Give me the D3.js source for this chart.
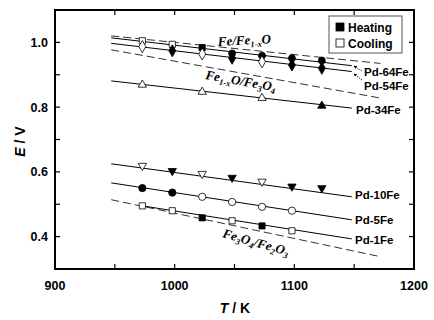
<!DOCTYPE html>
<html>
<head>
<meta charset="utf-8">
<script src="https://cdn.jsdelivr.net/npm/d3@7"></script>
<style>
  body { margin: 0; background: #fff; }
  text { font-family: "Liberation Sans", Arial, sans-serif; }
</style>
</head>
<body>
<svg id="chart" width="434" height="320"></svg>
<script>
// Temperatures (K) of measurement
const temps = [973, 998, 1023, 1048, 1073, 1098, 1123];

// EMF values (V) per alloy, with marker shape and fill (h = heating, c = cooling)
const pd64 = [1.005, 0.994, 0.984, 0.966, 0.959, 0.951, 0.944];
const pd64Mode = ["c", "c", "h", "h", "h", "h", "h"];
const pd64Shape = ["square", "square", "square", "circle", "circle", "circle", "circle"];
const pd54 = [0.987, 0.974, 0.964, 0.951, 0.940, 0.930, 0.920];
const pd54Mode = ["c", "h", "c", "h", "c", "h", "h"];
const pd34T = [973, 1023, 1073, 1123];
const pd34 = [0.869, 0.847, 0.828, 0.804];
const pd34Mode = ["c", "c", "c", "h"];
const pd10 = [0.619, 0.603, 0.594, 0.582, 0.570, 0.555, 0.550];
const pd10Mode = ["c", "h", "c", "h", "c", "h", "h"];
const pd5T = [973, 998, 1023, 1048, 1073, 1098];
const pd5 = [0.550, 0.536, 0.523, 0.507, 0.492, 0.480];
const pd5Mode = ["h", "h", "c", "c", "c", "c"];
const pd1T = [973, 998, 1023, 1048, 1073, 1098];
const pd1 = [0.495, 0.480, 0.458, 0.449, 0.433, 0.418];
const pd1Mode = ["c", "c", "h", "c", "h", "c"];

// Fitted lines [T start, E start, T end, E end]
const fitLines = [
    [947, 1.014, 1148, 0.928],
    [947, 0.997, 1148, 0.910],
    [947, 0.881, 1148, 0.797],
    [947, 0.625, 1148, 0.523],
    [947, 0.566, 1148, 0.452],
    [973, 0.495, 1148, 0.393]
];
// Equilibrium lines (dashed)
const eqLines = [
    [947, 1.020, 1172, 0.935],
    [947, 0.977, 1172, 0.828],
    [947, 0.514, 1172, 0.338]
];

const xTicks = [900, 1000, 1100, 1200];
const yTicks = [0.4, 0.6, 0.8, 1.0];

const svg = d3.select("#chart");
const pLeft = 55, pRight = 414, pTop = 10, pBottom = 269;

const x = d3.scaleLinear().domain([900, 1200]).range([pLeft, pRight]);
const y = d3.scaleLinear().domain([0.3, 1.1]).range([pBottom, pTop]);

// Lines
svg.selectAll(".eq").data(eqLines).join("line")
    .attr("x1", d => x(d[0])).attr("y1", d => y(d[1]))
    .attr("x2", d => x(d[2])).attr("y2", d => y(d[3]))
    .attr("stroke", "#333").attr("stroke-width", 1)
    .attr("stroke-dasharray", "8,4");

svg.selectAll(".fit").data(fitLines).join("line")
    .attr("x1", d => x(d[0])).attr("y1", d => y(d[1]))
    .attr("x2", d => x(d[2])).attr("y2", d => y(d[3]))
    .attr("stroke", "#000").attr("stroke-width", 1);

// Markers
const symbols = {
    square: d3.symbolSquare,
    circle: d3.symbolCircle,
    diamond: d3.symbolDiamond,
    triangle: d3.symbolTriangle
};
const drawSeries = (ts, es, modes, shape, size, rotate) => {
    ts.forEach((t, i) => {
        const s = Array.isArray(shape) ? shape[i] : shape;
        svg.append("path")
            .attr("d", d3.symbol().type(symbols[s]).size(size)())
            .attr("transform", `translate(${x(t)},${y(es[i])})${rotate ? " rotate(180)" : ""}`)
            .attr("fill", modes[i] === "h" ? "#000" : "#fff")
            .attr("stroke", "#000").attr("stroke-width", 0.8);
    });
};
drawSeries(temps, pd64, pd64Mode, pd64Shape, 38);
drawSeries(temps, pd54, pd54Mode, "diamond", 42);
drawSeries(pd34T, pd34, pd34Mode, "triangle", 30);
drawSeries(temps, pd10, pd10Mode, "triangle", 30, true);
drawSeries(pd5T, pd5, pd5Mode, "circle", 42);
drawSeries(pd1T, pd1, pd1Mode, "square", 38);

// Frame and ticks (inside)
const tickLen = 5;
const xAll = d3.range(950, 1200, 50);
const yAll = d3.range(0.4, 1.05, 0.1);
svg.selectAll(".xtb").data(xAll).join("line")
    .attr("x1", d => x(d)).attr("x2", d => x(d))
    .attr("y1", pBottom).attr("y2", pBottom - tickLen)
    .attr("stroke", "#000").attr("stroke-width", 1.2);
svg.selectAll(".xtt").data(xAll).join("line")
    .attr("x1", d => x(d)).attr("x2", d => x(d))
    .attr("y1", pTop).attr("y2", pTop + tickLen)
    .attr("stroke", "#000").attr("stroke-width", 1.2);
svg.selectAll(".ytl").data(yAll).join("line")
    .attr("x1", pLeft).attr("x2", pLeft + tickLen)
    .attr("y1", d => y(d)).attr("y2", d => y(d))
    .attr("stroke", "#000").attr("stroke-width", 1.2);
svg.selectAll(".ytr").data(yAll).join("line")
    .attr("x1", pRight).attr("x2", pRight - tickLen)
    .attr("y1", d => y(d)).attr("y2", d => y(d))
    .attr("stroke", "#000").attr("stroke-width", 1.2);
svg.append("rect")
    .attr("x", pLeft).attr("y", pTop)
    .attr("width", pRight - pLeft).attr("height", pBottom - pTop)
    .attr("fill", "none").attr("stroke", "#000").attr("stroke-width", 2);

// Tick labels
svg.selectAll(".xl").data(xTicks).join("text")
    .attr("x", d => x(d)).attr("y", pBottom + 21)
    .attr("text-anchor", "middle")
    .attr("font-size", 12.5).attr("font-weight", "bold")
    .text(d => d);
svg.selectAll(".yl").data(yTicks).join("text")
    .attr("x", pLeft - 7).attr("y", d => y(d) + 4.5)
    .attr("text-anchor", "end")
    .attr("font-size", 12.5).attr("font-weight", "bold")
    .text(d => d.toFixed(1));

// Axis titles
const yt = svg.append("text")
    .attr("transform", `translate(25,${(pTop + pBottom) / 2 + 2}) rotate(-90)`)
    .attr("text-anchor", "middle")
    .attr("font-size", 14).attr("font-weight", "bold");
yt.append("tspan").attr("font-style", "italic").text("E");
yt.append("tspan").text(" / V");
const xt = svg.append("text")
    .attr("x", 235).attr("y", 313)
    .attr("text-anchor", "middle")
    .attr("font-size", 14).attr("font-weight", "bold");
xt.append("tspan").attr("font-style", "italic").text("T");
xt.append("tspan").text(" / K");

// Series labels
const seriesLabels = [
    ["Pd-64Fe", 364, 76],
    ["Pd-54Fe", 364, 90],
    ["Pd-34Fe", 356, 114],
    ["Pd-10Fe", 355, 199],
    ["Pd-5Fe", 355, 224],
    ["Pd-1Fe", 355, 244]
];
svg.selectAll(".sl").data(seriesLabels).join("text")
    .attr("x", d => d[1]).attr("y", d => d[2])
    .attr("font-size", 11.5).attr("font-weight", "bold")
    .text(d => d[0]);

// Small arrows to Pd-64Fe / Pd-54Fe lines
const defs = svg.append("defs");
defs.append("marker").attr("id", "ah")
    .attr("viewBox", "0 0 6 6").attr("refX", 5).attr("refY", 3)
    .attr("markerWidth", 4).attr("markerHeight", 4).attr("orient", "auto")
    .append("path").attr("d", "M0,0L6,3L0,6Z").attr("fill", "#000");
[[362, 71, 354, 66], [362, 80, 354, 74]].forEach(a => {
    svg.append("line")
        .attr("x1", a[0]).attr("y1", a[1]).attr("x2", a[2]).attr("y2", a[3])
        .attr("stroke", "#000").attr("stroke-width", 0.8)
        .attr("stroke-dasharray", "1.5,1")
        .attr("marker-end", "url(#ah)");
});

// Equilibrium labels (italic serif)
const eqLabel = (tx, ty, rot, parts) => {
    const t = svg.append("text")
        .attr("transform", `translate(${tx},${ty}) rotate(${rot})`)
        .style("font-family", "'Liberation Serif', 'DejaVu Serif', serif")
        .style("font-style", "italic")
        .style("font-weight", "bold").style("font-size", "13px");
    parts.forEach(p => {
        const s = t.append("tspan").text(p[0]);
        if (p[1] > 0) s.style("font-size", "8.5px").attr("dy", p[1]);
        if (p[1] < 0) s.attr("dy", p[1]);
    });
};
eqLabel(218, 46, -3, [["Fe/Fe"], ["1-x", 3], ["O", -3]]);
eqLabel(205, 79, 10, [["Fe"], ["1-x", 3], ["O/Fe", -3], ["3", 3], ["O", -3], ["4", 3]]);
eqLabel(222, 237, 16, [["Fe"], ["3", 3], ["O", -3], ["4", 3], ["/Fe", -3], ["2", 3], ["O", -3], ["3", 3]]);

// Legend
const lg = svg.append("g").attr("transform", "translate(329,16)");
lg.append("rect").attr("width", 73).attr("height", 37)
    .attr("fill", "#fff").attr("stroke", "#555").attr("stroke-width", 1);
[["Heating", "#000"], ["Cooling", "#fff"]].forEach((d, i) => {
    lg.append("rect").attr("x", 7).attr("y", 7 + i * 16)
        .attr("width", 8).attr("height", 8)
        .attr("fill", d[1]).attr("stroke", "#000").attr("stroke-width", 0.8);
    lg.append("text").attr("x", 19).attr("y", 15.5 + i * 16)
        .attr("font-size", 12).attr("font-weight", "bold").text(d[0]);
});
</script>
</body>
</html>
